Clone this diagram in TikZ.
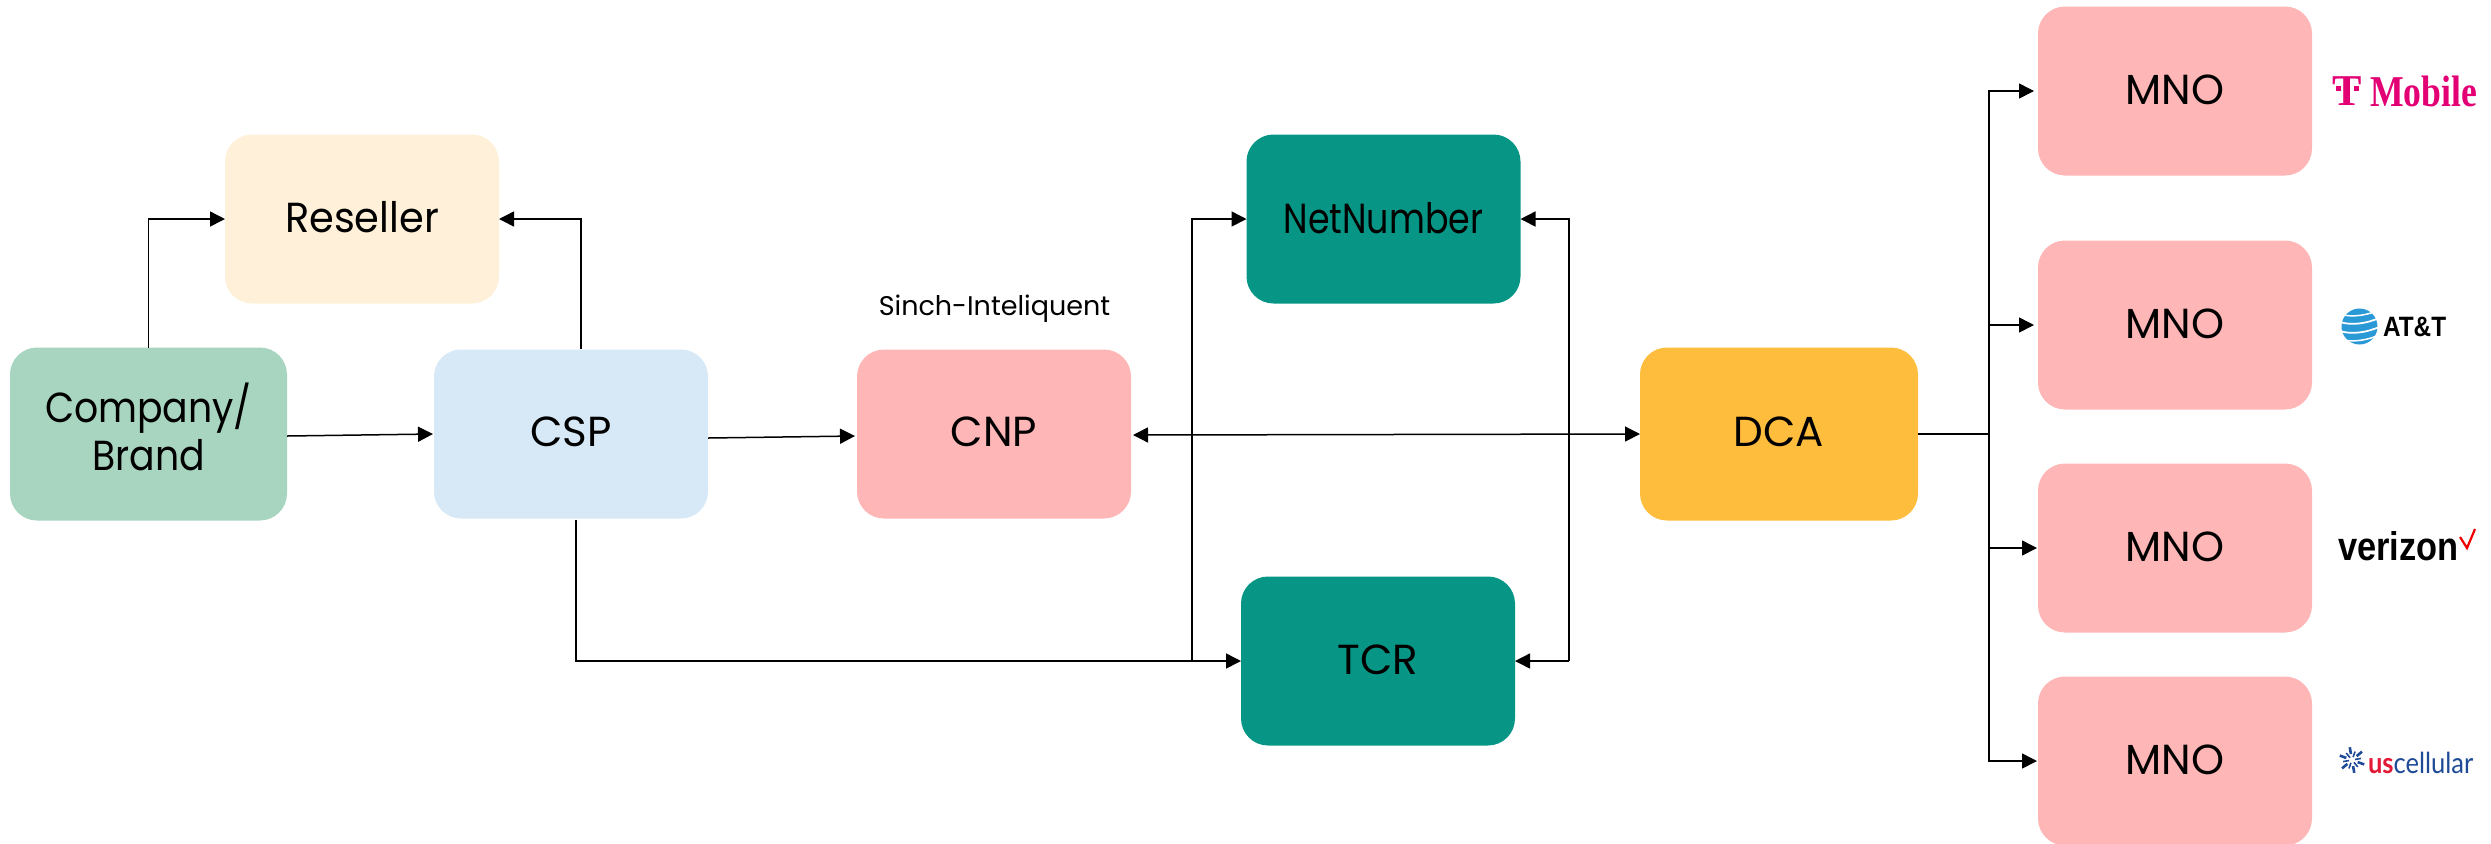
\documentclass[tikz,border=0pt]{standalone}
\usepackage{fontspec}
\usepackage{graphicx}
\setmainfont{Poppins}
\newfontfamily\logoserif{Liberation Serif}
\newfontfamily\logosans{Liberation Sans}
\newfontfamily\logolato{Lato}
\usetikzlibrary{arrows.meta,calc}
\definecolor{cogreen}{HTML}{A8D5C0}
\definecolor{rescream}{HTML}{FFF1D9}
\definecolor{cspblue}{HTML}{D7E9F7}
\definecolor{mnopink}{HTML}{FFB6B7}
\definecolor{tealbox}{HTML}{079686}
\definecolor{dcaamber}{HTML}{FFBD3D}
\definecolor{tmagenta}{HTML}{E20074}
\definecolor{attblue}{HTML}{2A9AD6}
\definecolor{vzred}{HTML}{EE0000}
\definecolor{usblue}{HTML}{1F4A96}
\definecolor{usred}{HTML}{E31937}
\tikzset{
  flowbox/.style={rectangle,rounded corners=13.5pt,draw=none,outer sep=0pt,inner sep=0pt,
    align=center,font=\fontsize{21}{25}\selectfont,text=black},
  wide/.style={minimum width=137pt,minimum height=84.5pt},
  conn/.style={draw=black,line width=0.75pt,-{Triangle[length=7.5pt,width=7.5pt]}},
  bus/.style={draw=black,line width=0.75pt},
  both/.style={draw=black,line width=0.75pt,{Triangle[length=7.5pt,width=7.5pt]}-{Triangle[length=7.5pt,width=7.5pt]}},
  logo/.style={inner sep=0pt,outer sep=0pt,anchor=west}
}
\begin{document}
\begin{tikzpicture}[x=0.5pt,y=-0.5pt]
\useasboundingbox (0,0) rectangle (2491,843);
% boxes
\node[flowbox,fill=cogreen,minimum width=138.5pt,minimum height=86.5pt] (co) at (148.5,434) {\raisebox{3pt}{\scalebox{0.9}[1]{\begin{tabular}{@{}c@{}}Company/\\[-1pt]Brand\end{tabular}}}};
\node[flowbox,wide,fill=rescream] (res) at (362,219) {\raisebox{2pt}{\scalebox{0.95}[1]{Reseller}}};
\node[flowbox,wide,fill=cspblue] (csp) at (571,434) {\raisebox{2pt}{CSP}};
\node[flowbox,wide,fill=mnopink] (cnp) at (994,434) {\raisebox{2pt}{CNP}};
\node[flowbox,wide,fill=tealbox] (nn) at (1383.5,219) {\raisebox{1.5pt}{\scalebox{0.83}[1]{NetNumber}}};
\node[flowbox,wide,fill=tealbox] (tcr) at (1378,661) {\raisebox{1.5pt}{TCR}};
\node[flowbox,fill=dcaamber,minimum width=139pt,minimum height=86.5pt] (dca) at (1779,434) {\raisebox{2pt}{DCA}};
\node[flowbox,wide,fill=mnopink] (m1) at (2175,91) {\raisebox{1.5pt}{MNO}};
\node[flowbox,wide,fill=mnopink] (m2) at (2175,325) {\raisebox{1.5pt}{MNO}};
\node[flowbox,wide,fill=mnopink] (m3) at (2175,548) {\raisebox{1.5pt}{MNO}};
\node[flowbox,wide,fill=mnopink] (m4) at (2175,761) {\raisebox{1.5pt}{MNO}};
\node[inner sep=0pt,font=\fontsize{13.5}{16}\selectfont] (lab) at (994.5,309) {Sinch-Inteliquent};
% junction coordinates
\coordinate (cspup) at (581,349);
\coordinate (cspdown) at (576,520);
\coordinate (lbus) at (1192,661);
\coordinate (rbus) at (1569,661);
\coordinate (mbus) at (1989,434);
% connectors
\draw[conn] (co.north) |- (res.west);
\draw[conn] (cspup) |- (res.east);
\draw[conn] (287,436) -- (433,434);
\draw[conn] (708,438) -- (855,436);
\draw[conn] (cspdown) |- (tcr.west);
\draw[conn] (lbus) |- (nn.west);
\draw[conn] (rbus) |- (nn.east);
\draw[conn] (rbus) -- (tcr.east);
\draw[both] (1133,435) -- (dca.west);
\draw[bus] (dca.east) -- (mbus);
\draw[conn] (mbus) |- ([xshift=-2pt]m1.west);
\draw[conn] (mbus) |- ([xshift=-2pt]m2.west);
\draw[conn] (mbus) |- ([xshift=-.5pt]m3.west);
\draw[conn] (mbus) |- ([xshift=-.5pt]m4.west);
% T-Mobile logo
\node[inner sep=0pt,text=tmagenta,font=\logoserif\bfseries\fontsize{22}{22}\selectfont] (tm0) at (2347.5,91) {T};
\fill[tmagenta] (2336,86) rectangle (2341,91);
\fill[tmagenta] (2354,86) rectangle (2359,91);
\node[logo,text=tmagenta,font=\logoserif\bfseries\fontsize{22}{22}\selectfont] (tm1) at (2370,91) {\scalebox{0.81}[1]{Mobile}};
% AT&T logo
\fill[attblue] (2359.5,326.5) circle (18);
\foreach \yy/\ww in {314/3,322/3.5,331/3.5,339/3}{\draw[white,line width=\ww*0.25pt] (2340,\yy) .. controls (2352,\yy+4) and (2368,\yy+1) .. (2379,\yy-4);}
\node[logo,font=\logosans\bfseries\fontsize{14}{14}\selectfont] (att) at (2383,327) {\scalebox{0.87}[1]{AT\&T}};
% Verizon logo
\node[logo,font=\logosans\bfseries\fontsize{20}{20}\selectfont] (vz) at (2338,546) {\scalebox{0.86}[1]{verizon}};
\draw[vzred,line width=1.1pt] (2460,537) -- (2467,548) -- (2475,529);
% US Cellular logo
\foreach \a in {0,60,...,300}{\draw[usblue,line width=1.3pt] ($(2352,760)+(\a+20:6)$) -- ($(2352,760)+(\a+20:13)$);}
\foreach \a in {30,90,...,330}{\draw[usblue,line width=.8pt] ($(2352,760)+(\a+20:3)$) -- ($(2352,760)+(\a+20:9)$);}
\node[logo,font=\logolato\fontsize{14.5}{14.5}\selectfont] (usc) at (2368,763) {\scalebox{0.88}[1]{\textcolor{usred}{\textbf{us}}\textcolor{usblue}{cellular}}};
\end{tikzpicture}
\end{document}
